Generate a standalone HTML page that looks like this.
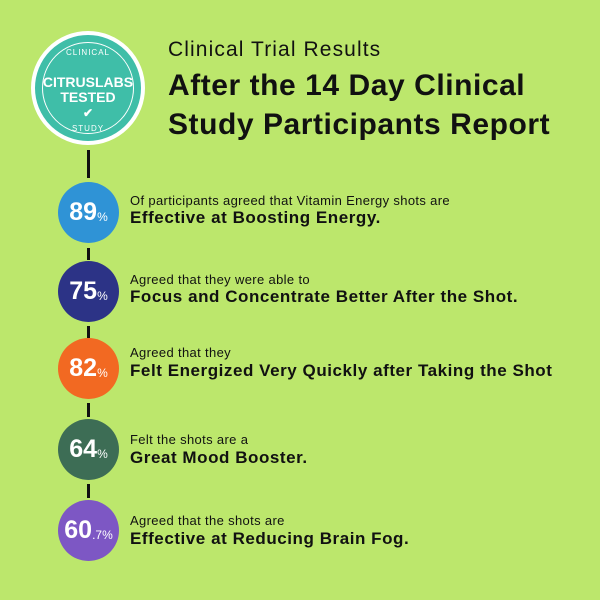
<!DOCTYPE html>
<html><head><style>
body{margin:0;width:600px;height:600px;background:#bce76c;font-family:"Liberation Sans",sans-serif;position:relative;overflow:hidden;color:#111}
.a{position:absolute}
.c{position:absolute;left:58px;width:61px;height:61px;border-radius:50%;color:#fff;font-weight:bold;font-size:25px;display:flex;align-items:center;justify-content:center;letter-spacing:0px}
.c small{font-size:12px;font-weight:normal;margin-top:8px}
.s{position:absolute;left:130px;font-size:13px;color:#111;letter-spacing:0.35px}
.b{position:absolute;left:130px;font-size:17px;font-weight:bold;color:#111;letter-spacing:0.55px}
.seg{position:absolute;left:87px;width:3px;background:#111}
</style></head><body>
<div class="seg" style="top:150px;height:28px"></div>
<div class="seg" style="top:248px;height:12px"></div>
<div class="seg" style="top:326px;height:12px"></div>
<div class="seg" style="top:403px;height:14px"></div>
<div class="seg" style="top:484px;height:14px"></div>
<div class="a" style="left:31px;top:31px;width:114px;height:114px;border-radius:50%;background:#3fbea8;border:4px solid #fff;box-sizing:border-box"></div>
<div class="a" style="left:42px;top:42px;width:92px;height:92px;border-radius:50%;border:1.5px solid #fff;box-sizing:border-box"></div>
<div class="a" style="left:31px;top:48px;width:114px;text-align:center;color:#fff;font-size:8px;letter-spacing:1px">CLINICAL</div>
<div class="a" style="left:31px;top:75px;width:114px;text-align:center;color:#fff;font-size:14px;line-height:15px;font-weight:bold">CITRUSLABS<br>TESTED</div>
<div class="a" style="left:31px;top:106px;width:114px;text-align:center;color:#fff;font-size:12px;font-weight:bold">✔</div>
<div class="a" style="left:31px;top:124px;width:114px;text-align:center;color:#fff;font-size:8px;letter-spacing:1px">STUDY</div>
<div class="a" style="left:168px;top:38px;font-size:21px;letter-spacing:1.1px">Clinical Trial Results</div>
<div class="a" style="left:168px;top:66px;font-size:30px;font-weight:bold;line-height:39px;letter-spacing:0.55px">After the 14 Day Clinical<br>Study Participants Report</div>
<div class="c" style="top:182px;background:#2f93d6">89<small>%</small></div>
<div class="s" style="top:193px">Of participants agreed that Vitamin Energy shots are</div>
<div class="b" style="top:208px">Effective at Boosting Energy.</div>
<div class="c" style="top:261px;background:#2c3386">75<small>%</small></div>
<div class="s" style="top:272px">Agreed that they were able to</div>
<div class="b" style="top:287px">Focus and Concentrate Better After the Shot.</div>
<div class="c" style="top:338px;background:#f26922">82<small>%</small></div>
<div class="s" style="top:345px">Agreed that they</div>
<div class="b" style="top:361px">Felt Energized Very Quickly after Taking the Shot</div>
<div class="c" style="top:419px;background:#3d6d55">64<small>%</small></div>
<div class="s" style="top:432px">Felt the shots are a</div>
<div class="b" style="top:448px">Great Mood Booster.</div>
<div class="c" style="top:500px;background:#7d57c4">60<small>.7%</small></div>
<div class="s" style="top:513px">Agreed that the shots are</div>
<div class="b" style="top:529px">Effective at Reducing Brain Fog.</div>
</body></html>
